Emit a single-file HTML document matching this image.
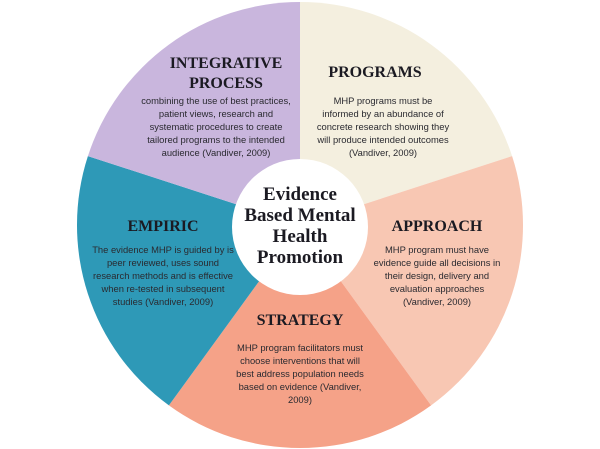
<!DOCTYPE html>
<html><head><meta charset="utf-8"><style>
html,body{margin:0;padding:0;background:#fff;}
svg{display:block}
.t{font-family:"Liberation Serif",serif;font-weight:bold;font-size:16px;fill:#1b1a22;text-anchor:middle}
.c{font-family:"Liberation Serif",serif;font-weight:bold;font-size:19px;fill:#1b1a22;text-anchor:middle}
.b{font-family:"Liberation Sans",sans-serif;font-size:9.4px;fill:#2a2a30;text-anchor:middle}
</style></head><body>
<svg width="600" height="449" viewBox="0 0 600 449">
<g transform="translate(300,225)">
<path d="M0,0 L0,-223 A223,223 0 0 1 212.1,-68.9 Z" fill="#f4efdf"/>
<path d="M0,0 L212.1,-68.9 A223,223 0 0 1 131.1,180.4 Z" fill="#f8c7b3"/>
<path d="M0,0 L131.1,180.4 A223,223 0 0 1 -131.1,180.4 Z" fill="#f5a288"/>
<path d="M0,0 L-131.1,180.4 A223,223 0 0 1 -212.1,-68.9 Z" fill="#2e99b7"/>
<path d="M0,0 L-212.1,-68.9 A223,223 0 0 1 0,-223 Z" fill="#c9b6dd"/>
<circle cx="0" cy="2" r="68" fill="#fff"/>
</g>
<text class="t" x="226" y="68">INTEGRATIVE</text>
<text class="t" x="226" y="88">PROCESS</text>
<text class="b" x="216" y="104">combining the use of best practices,</text>
<text class="b" x="216" y="117">patient views, research and</text>
<text class="b" x="216" y="130">systematic procedures to create</text>
<text class="b" x="216" y="143">tailored programs to the intended</text>
<text class="b" x="216" y="156">audience (Vandiver, 2009)</text>

<text class="t" x="375" y="77">PROGRAMS</text>
<text class="b" x="383" y="104">MHP programs must be</text>
<text class="b" x="383" y="117">informed by an abundance of</text>
<text class="b" x="383" y="130">concrete research showing they</text>
<text class="b" x="383" y="143">will produce intended outcomes</text>
<text class="b" x="383" y="156">(Vandiver, 2009)</text>

<text class="c" x="300" y="200">Evidence</text>
<text class="c" x="300" y="221">Based Mental</text>
<text class="c" x="300" y="242">Health</text>
<text class="c" x="300" y="263">Promotion</text>

<text class="t" x="163" y="231">EMPIRIC</text>
<text class="b" x="163" y="253">The evidence MHP is guided by is</text>
<text class="b" x="163" y="266">peer reviewed, uses sound</text>
<text class="b" x="163" y="279">research methods and is effective</text>
<text class="b" x="163" y="292">when re-tested in subsequent</text>
<text class="b" x="163" y="305">studies (Vandiver, 2009)</text>

<text class="t" x="437" y="231">APPROACH</text>
<text class="b" x="437" y="253">MHP program must have</text>
<text class="b" x="437" y="266">evidence guide all decisions in</text>
<text class="b" x="437" y="279">their design, delivery and</text>
<text class="b" x="437" y="292">evaluation approaches</text>
<text class="b" x="437" y="305">(Vandiver, 2009)</text>

<text class="t" x="300" y="325">STRATEGY</text>
<text class="b" x="300" y="351">MHP program facilitators must</text>
<text class="b" x="300" y="364">choose interventions that will</text>
<text class="b" x="300" y="377">best address population needs</text>
<text class="b" x="300" y="390">based on evidence (Vandiver,</text>
<text class="b" x="300" y="403">2009)</text>
</svg>
</body></html>
